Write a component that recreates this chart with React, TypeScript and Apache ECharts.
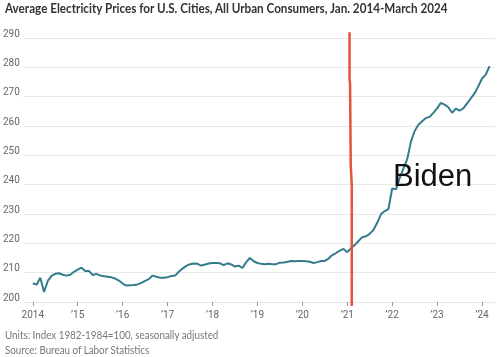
import React, { useEffect, useRef } from 'react';
import * as echarts from 'echarts';

// Monthly index values (seasonally adjusted), Jan 2014 - Mar 2024
const v2014 = [206.4, 205.9, 208.3, 203.4, 207.2, 208.9, 209.6, 209.8, 209.3, 209.0, 209.3, 210.3];
const v2015 = [211.0, 211.7, 210.6, 210.6, 209.2, 209.6, 209.0, 208.8, 208.6, 208.4, 208.0, 207.3];
const v2016 = [206.3, 205.6, 205.7, 205.8, 206.0, 206.5, 207.2, 207.8, 209.0, 208.6, 208.3, 208.3];
const v2017 = [208.4, 208.9, 209.0, 210.3, 211.4, 212.3, 212.9, 213.1, 213.0, 212.4, 212.8, 213.1];
const v2018 = [213.3, 213.3, 213.2, 212.6, 213.2, 212.8, 212.1, 212.4, 211.6, 213.6, 215.0, 213.9];
const v2019 = [213.3, 213.0, 212.9, 213.0, 212.9, 212.9, 213.4, 213.5, 213.7, 214.0, 213.9, 214.0];
const v2020 = [214.0, 213.9, 213.7, 213.3, 213.6, 214.0, 214.0, 214.8, 216.0, 216.7, 217.5, 218.1];
const v2021 = [217.0, 218.3, 219.4, 220.8, 222.1, 222.4, 223.2, 224.6, 227.0, 229.9, 231.0, 231.7];
const v2022 = [238.7, 238.4, 242.2, 245.5, 248.6, 254.6, 258.3, 260.4, 261.6, 262.7, 263.1, 264.5];
const v2023 = [266.0, 267.9, 267.3, 266.4, 264.5, 265.9, 265.2, 266.0, 267.7, 269.4, 271.1, 273.5];
const v2024 = [276.2, 277.5, 280.4];

const years = [2014, 2015, 2016, 2017, 2018, 2019, 2020, 2021, 2022, 2023, 2024];
const yearTickLabels = ['2014', '\u201915', '\u201916', '\u201917', '\u201918', '\u201919', '\u201920', '\u201921', '\u201922', '\u201923', '\u201924'];

// empty months of axis padding before / after the data
const padBefore = ['2013-11', '2013-12'];
const padAfter = ['2024-04'];

const yMin = 200;
const yMax = 290;
const yStep = 10;

// hand-drawn inauguration marker (month index from Jan 2014, index value)
const bidenLineX = [84.61, 84.61, 84.75, 84.93, 85.2, 85.2];
const bidenLineY = [292, 276.4, 274.0, 246.7, 239.9, 198.6];

const title = 'Average Electricity Prices for U.S. Cities, All Urban Consumers, Jan. 2014-March 2024';
const note1 = 'Units: Index 1982-1984=100, seasonally adjusted';
const note2 = 'Source: Bureau of Labor Statistics';
const annotation = 'Biden';

function measure(text: string, font: string): number {
  const c = document.createElement('canvas');
  const ctx = c.getContext('2d');
  if (!ctx) return text.length * 6;
  ctx.font = font;
  return ctx.measureText(text).width;
}

export default function App() {
  const ref = useRef<HTMLDivElement>(null);

  useEffect(() => {
    if (!ref.current) return;
    const chart = echarts.init(ref.current, undefined, { renderer: 'svg' });

    const allValues = [v2014, v2015, v2016, v2017, v2018, v2019, v2020, v2021, v2022, v2023, v2024];
    const categories: string[] = [...padBefore];
    const seriesData: (number | null)[] = padBefore.map(() => null);
    allValues.forEach((arr, yi) => {
      arr.forEach((v, mi) => {
        categories.push(`${years[yi]}-${String(mi + 1).padStart(2, '0')}`);
        seriesData.push(v);
      });
    });
    padAfter.forEach((c) => {
      categories.push(c);
      seriesData.push(null);
    });

    const labelFor = (value: string) => {
      const y = parseInt(value.slice(0, 4), 10);
      const i = years.indexOf(y);
      return i >= 0 ? yearTickLabels[i] : '';
    };
    const isJan = (_i: number, value: string) => value.endsWith('-01') && years.indexOf(parseInt(value.slice(0, 4), 10)) >= 0;

    const titleFont = 'bold 13px Lato';
    const titleScale = 444 / measure(title, titleFont);
    const noteFont = '11px Lato';
    const noteScale = 214 / measure(note1, noteFont);

    const nCats = categories.length;

    chart.setOption({
      animation: false,
      grid: { left: 22.625, right: 4.875, top: 38, bottom: 55, containLabel: false },
      xAxis: [
        {
          type: 'category',
          data: categories,
          boundaryGap: true,
          axisLine: { show: false },
          axisTick: { show: true, interval: isJan, alignWithLabel: true, length: 4, lineStyle: { color: '#9a9a9a', width: 1 } },
          axisLabel: {
            interval: isJan,
            formatter: labelFor,
            color: '#666',
            fontSize: 10,
            fontFamily: '"Liberation Sans Narrow", Roboto, sans-serif',
            margin: 7,
          },
          splitLine: { show: false },
        },
        {
          type: 'value',
          show: false,
          min: -padBefore.length - 0.5,
          max: nCats - padBefore.length - 0.5,
        },
      ],
      yAxis: {
        type: 'value',
        min: yMin,
        max: yMax,
        interval: yStep,
        axisLine: { show: false },
        axisTick: { show: false },
        axisLabel: {
          color: '#666',
          fontSize: 10,
          fontFamily: '"Liberation Sans Narrow", Roboto, sans-serif',
          verticalAlign: 'bottom',
          margin: 3.6,
        },
        splitLine: { lineStyle: { color: '#e8e8e8', width: 1 } },
      },
      series: [
        {
          type: 'line',
          data: seriesData,
          xAxisIndex: 0,
          showSymbol: false,
          symbol: 'none',
          connectNulls: false,
          lineStyle: { color: '#347c8c', width: 2 },
          silent: true,
          z: 3,
        },
        {
          type: 'line',
          xAxisIndex: 1,
          data: bidenLineX.map((x, i) => [x, bidenLineY[i]]),
          showSymbol: false,
          symbol: 'none',
          clip: false,
          lineStyle: { color: '#e3553a', width: 2.5 },
          silent: true,
          z: 4,
        },
      ],
      graphic: [
        {
          type: 'text',
          x: 5,
          y: 8,
          scaleX: titleScale,
          style: { text: title, font: titleFont, fill: '#333', verticalAlign: 'middle', align: 'left' },
        },
        {
          type: 'text',
          x: 5,
          y: 335,
          scaleX: noteScale,
          style: { text: note1, font: noteFont, fill: '#777', verticalAlign: 'middle', align: 'left' },
        },
        {
          type: 'text',
          x: 5,
          y: 350,
          scaleX: noteScale,
          style: { text: note2, font: noteFont, fill: '#777', verticalAlign: 'middle', align: 'left' },
        },
        {
          type: 'text',
          x: 393,
          y: 175,
          style: { text: annotation, font: '31px "Liberation Sans", Arial, sans-serif', fill: '#111', verticalAlign: 'middle', align: 'left' },
          z: 10,
        },
      ],
    });

    return () => chart.dispose();
  }, []);

  return <div ref={ref} style={{ position: 'fixed', left: 0, top: 0, width: 500, height: 357 }} />;
}
